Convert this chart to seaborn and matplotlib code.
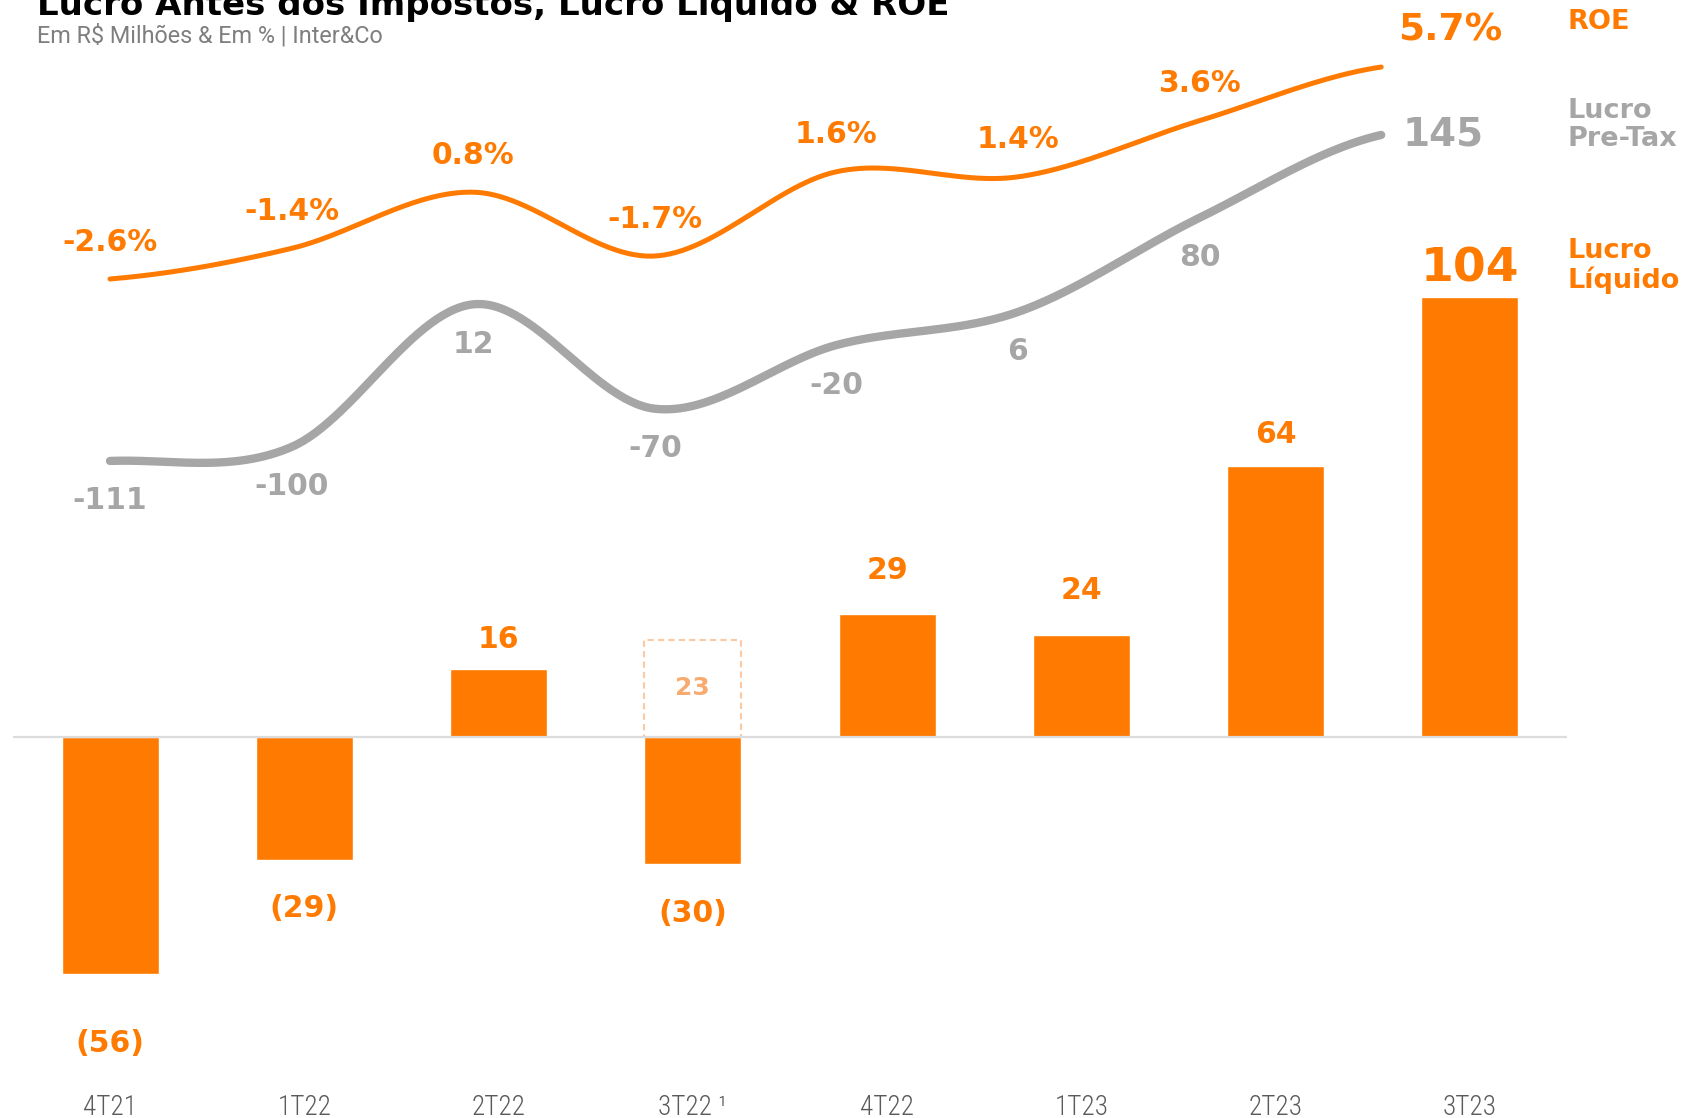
import numpy as np
import pandas as pd
import matplotlib
matplotlib.use("Agg")
import matplotlib.pyplot as plt
import seaborn as sns
from matplotlib import font_manager

# ---- data -------------------------------------------------------------
quarters = ["4T21", "1T22", "2T22", "3T22", "4T22", "1T23", "2T23", "3T23"]
tick_labels = ["4T21", "1T22", "2T22", "3T22 ¹", "4T22", "1T23", "2T23", "3T23"]
lucro_liquido = [-56, -29, 16, -30, 29, 24, 64, 104]
lucro_pre_tax = [-111, -100, 12, -70, -20, 6, 80, 145]
roe = [-2.6, -1.4, 0.8, -1.7, 1.6, 1.4, 3.6, 5.7]
lucro_ajustado_3t22 = 23

# ---- style ------------------------------------------------------------
ORANGE = "#FF7A00"
GRAY = "#A6A6A6"
LIGHT_ORANGE = "#FCCAA2"
LABEL_ORANGE = "#F8AB70"
TICK_GRAY = "#5A5A5A"

sns.set_theme(style="white")
plt.rcParams["font.family"] = ["DejaVu Sans"]

# narrow face for axis labels, whichever is available
installed = {f.name for f in font_manager.fontManager.ttflist}
NARROW = next((n for n in ["Liberation Sans Narrow", "DejaVu Sans Condensed",
                           "Roboto Condensed", "Roboto"] if n in installed), "DejaVu Sans")

W, H = 1706, 1118
DPI = 100
PX = 72 / DPI  # points per pixel

fig = plt.figure(figsize=(W / DPI, H / DPI), dpi=DPI)
fig.patch.set_facecolor("white")

# ---- bars: Lucro Líquido ---------------------------------------------
bar_scale = 440 / 104          # px per R$ mi
zero_px = 737                  # baseline, px from top
axes_bottom_px = 1088
ax = fig.add_axes([13 / W, 1 - axes_bottom_px / H, 1554 / W, axes_bottom_px / H])
df = pd.DataFrame({"quarter": quarters, "lucro": lucro_liquido})
sns.barplot(data=df, x="quarter", y="lucro", color=ORANGE, saturation=1,
            width=0.5, ax=ax, zorder=2)
ax.set_xlim(-0.5, 7.5)
ax.set_ylim(-(axes_bottom_px - zero_px) / bar_scale, zero_px / bar_scale)
ax.axhline(0, color="#DCDCDC", lw=1.6, zorder=3)

# adjusted 3T22 result drawn as a dashed outline
i3 = quarters.index("3T22")
ax.bar(i3, lucro_ajustado_3t22, width=0.5, fill=False, edgecolor=LIGHT_ORANGE,
       linestyle=(0, (3, 2)), linewidth=1.5, zorder=1)
ax.text(i3, lucro_ajustado_3t22 / 2, str(lucro_ajustado_3t22), ha="center", va="center",
        color=LABEL_ORANGE, fontsize=18, fontweight="bold")

# value labels (distance from bar end, px)
bar_label_gap = [70, 49, 30, 50, 44, 45, 32, 28]
for i, v in enumerate(lucro_liquido):
    big = i == len(lucro_liquido) - 1
    txt = f"({abs(v)})" if v < 0 else f"{v}"
    dy = bar_label_gap[i] * PX * (1 if v >= 0 else -1)
    ax.annotate(txt, xy=(i, v), xytext=(0, dy), textcoords="offset points",
                ha="center", va="center", color=ORANGE,
                fontsize=34 if big else 21.5, fontweight="bold")

ax.set_xticks(range(len(quarters)))
ax.set_xticklabels(tick_labels, fontsize=19.5, color=TICK_GRAY,
                   family=[NARROW, "DejaVu Sans"], fontweight="light")
ax.tick_params(axis="x", length=0, pad=6 * PX)
ax.set_yticks([])
ax.set_xlabel("")
ax.set_ylabel("")
sns.despine(ax=ax, left=True, bottom=True)
ax.patch.set_alpha(0)


# ---- smooth lines -----------------------------------------------------
def catmull_rom(values, per_seg=60):
    y = np.asarray(values, dtype=float)
    m = np.empty_like(y)
    m[1:-1] = (y[2:] - y[:-2]) / 2
    m[0] = (y[1] - y[0]) / 2
    m[-1] = (y[-1] - y[-2]) / 2
    t = np.linspace(0, 1, per_seg, endpoint=False)
    h00 = 2 * t**3 - 3 * t**2 + 1
    h10 = t**3 - 2 * t**2 + t
    h01 = -2 * t**3 + 3 * t**2
    h11 = t**3 - t**2
    xs, ys = [], []
    for i in range(len(y) - 1):
        xs.append(i + t)
        ys.append(h00 * y[i] + h10 * m[i] + h01 * y[i + 1] + h11 * m[i + 1])
    xs.append([len(y) - 1])
    ys.append([y[-1]])
    return np.concatenate(xs), np.concatenate(ys)


step = 181.6
line_left = 110 - step / 2


def line_axes(zero_from_top, px_per_unit):
    a = fig.add_axes([line_left / W, 0, 8 * step / W, 1])
    a.set_xlim(-0.5, 7.5)
    a.set_ylim(-(H - zero_from_top) / px_per_unit, zero_from_top / px_per_unit)
    a.axis("off")
    a.patch.set_alpha(0)
    return a


# Lucro Pre-Tax
ax_pt = line_axes(319.6, 1.2734)
xs, ys = catmull_rom(lucro_pre_tax)
sns.lineplot(x=xs, y=ys, ax=ax_pt, color=GRAY, linewidth=6, estimator=None,
             sort=False, legend=False, solid_capstyle="round")
for i, v in enumerate(lucro_pre_tax):
    last = i == len(lucro_pre_tax) - 1
    off = (62 * PX, 0) if last else (0, -40 * PX)
    ax_pt.annotate(f"{v}", xy=(i, v), xytext=off, textcoords="offset points",
                   ha="center", va="center", color=GRAY,
                   fontsize=28 if last else 21.5, fontweight="bold")

# ROE
ax_roe = line_axes(212.6, 25.54)
xs, ys = catmull_rom(roe)
sns.lineplot(x=xs, y=ys, ax=ax_roe, color=ORANGE, linewidth=3.6, estimator=None,
             sort=False, legend=False, solid_capstyle="round")
for i, v in enumerate(roe):
    last = i == len(roe) - 1
    off = (69 * PX, 36.5 * PX) if last else (0, 37 * PX)
    ax_roe.annotate(f"{v:.1f}%", xy=(i, v), xytext=off, textcoords="offset points",
                    ha="center", va="center", color=ORANGE,
                    fontsize=27 if last else 21.5, fontweight="bold")

# ---- series names on the right ---------------------------------------
fig.text(1568 / W, 1 - 22 / H, "ROE", color=ORANGE, fontsize=19.5,
         fontweight="bold", ha="left", va="center")
fig.text(1568 / W, 1 - 125 / H, "Lucro\nPre-Tax", color=GRAY, fontsize=19.5,
         fontweight="bold", ha="left", va="center", linespacing=1.15)
fig.text(1568 / W, 1 - 266 / H, "Lucro\nLíquido", color=ORANGE, fontsize=19.5,
         fontweight="bold", ha="left", va="center", linespacing=1.15)

# ---- title ------------------------------------------------------------
fig.text(37 / W, 1 - 15 / H, "Lucro Antes dos Impostos, Lucro Líquido & ROE",
         color="black", fontsize=24.5, fontweight="bold", ha="left", va="baseline")
fig.text(37 / W, 1 - 43 / H, "Em R$ Milhões & Em % | Inter&Co", color="#7F7F7F",
         fontsize=16.8, ha="left", va="baseline", family=["Roboto", "DejaVu Sans"])

fig.savefig("out.png", dpi=DPI, facecolor="white")
